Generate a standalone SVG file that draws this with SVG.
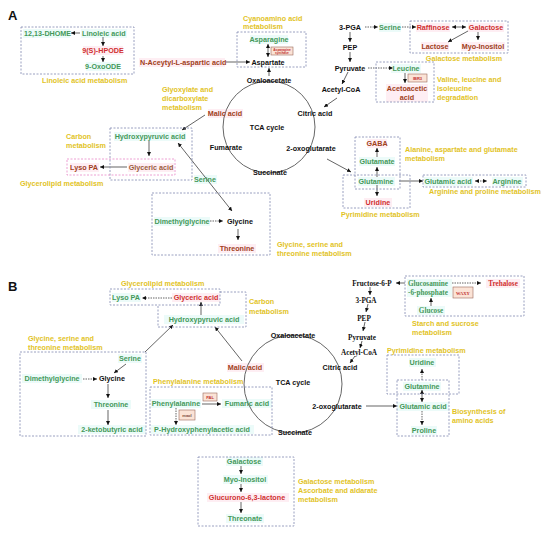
<svg xmlns="http://www.w3.org/2000/svg" width="550" height="536" viewBox="0 0 550 536">
<style>
text{font-family:"Liberation Sans",Arial,sans-serif;font-weight:bold;font-size:7.2px}
.s{font-family:"Liberation Serif","Times New Roman",serif}
.k{fill:#111}
.g{fill:#44995a}
.r{fill:#d03030}
.b{fill:#a0401a}
.y{fill:#e2c31f}
.m{text-anchor:middle}
.box{fill:none;stroke:#8088b0;stroke-width:0.8;stroke-dasharray:2 1.5}
.pbox{fill:none;stroke:#e888c8;stroke-width:0.8;stroke-dasharray:2 1.5}
.ln{stroke:#222;stroke-width:0.7;fill:none;marker-end:url(#ah)}
.dl{stroke:#222;stroke-width:0.7;fill:none;stroke-dasharray:1.5 1;marker-end:url(#ah)}
.bi{marker-start:url(#ah)}
.enz{fill:#fbe3d6;stroke:#9a6a5a;stroke-width:0.6}
.tiny{font-size:3.2px;fill:#c03030}
.hc{fill:#ecfbf9}
.hp{fill:#feeef3}
</style>
<defs>
<marker id="ah" viewBox="0 0 6 6" refX="6" refY="3" markerWidth="4" markerHeight="4" markerUnits="userSpaceOnUse" orient="auto-start-reverse">
<path d="M0,0 L6,3 L0,6 z" fill="#111"/>
</marker>
</defs>

<g id="highlights">
<rect class="hc" x="23" y="29" width="47" height="9"/>
<rect class="hc" x="81" y="29" width="46" height="9"/>
<rect class="hp" x="83" y="46" width="40" height="9"/>
<rect class="hc" x="86" y="62" width="34" height="9"/>
<rect class="hp" x="139" y="58" width="86" height="9"/>
<rect class="hc" x="250" y="35" width="38" height="9"/>
<rect class="hp" x="208" y="109" width="35" height="9"/>
<rect class="hc" x="379" y="23" width="22" height="9"/>
<rect class="hp" x="416" y="23" width="34" height="9"/>
<rect class="hp" x="468" y="23" width="36" height="9"/>
<rect class="hp" x="421" y="42" width="28" height="9"/>
<rect class="hp" x="461" y="42" width="44" height="9"/>
<rect class="hc" x="391" y="64" width="30" height="9"/>
<rect class="hp" x="386" y="84" width="42" height="18"/>
<rect class="hc" x="114" y="132" width="72" height="9"/>
<rect class="hp" x="70" y="163" width="29" height="9"/>
<rect class="hp" x="128" y="163" width="46" height="9"/>
<rect class="hc" x="194" y="175" width="23" height="9"/>
<rect class="hc" x="154" y="217" width="56" height="9"/>
<rect class="hp" x="218" y="244" width="38" height="9"/>
<rect class="hp" x="367" y="139" width="20" height="9"/>
<rect class="hc" x="359" y="157" width="36" height="9"/>
<rect class="hc" x="358" y="177" width="37" height="9"/>
<rect class="hp" x="364" y="198" width="28" height="9"/>
<rect class="hc" x="424" y="177" width="49" height="9"/>
<rect class="hc" x="492" y="177" width="31" height="9"/>
<rect class="hc" x="112" y="293" width="29" height="9"/>
<rect class="hp" x="172" y="293" width="48" height="9"/>
<rect class="hc" x="164" y="315" width="80" height="9"/>
<rect class="hc" x="118" y="354" width="24" height="9"/>
<rect class="hc" x="22" y="374" width="60" height="9"/>
<rect class="hc" x="91" y="400" width="40" height="9"/>
<rect class="hc" x="78" y="425" width="68" height="9"/>
<rect class="hc" x="151" y="399" width="50" height="9"/>
<rect class="hc" x="222" y="399" width="50" height="9"/>
<rect class="hc" x="151" y="425" width="103" height="9"/>
<rect class="hp" x="227" y="363" width="37" height="9"/>
<rect class="hc" x="407" y="279" width="45" height="18"/>
<rect class="hp" x="486" y="279" width="34" height="9"/>
<rect class="hc" x="417" y="306" width="28" height="9"/>
<rect class="hc" x="409" y="358" width="27" height="9"/>
<rect class="hc" x="403" y="382" width="38" height="9"/>
<rect class="hc" x="397" y="402" width="52" height="9"/>
<rect class="hc" x="411" y="426" width="26" height="9"/>
<rect class="hc" x="226" y="457" width="37" height="9"/>
<rect class="hc" x="223" y="475" width="45" height="9"/>
<rect class="hp" x="207" y="493" width="82" height="9"/>
<rect class="hc" x="226" y="514" width="38" height="9"/>
</g>

<text x="8" y="20" class="k" style="font-size:13px">A</text>
<text x="8" y="291" class="k" style="font-size:13px">B</text>

<g id="connectors">
<!-- Panel A -->
<line class="ln" x1="80" y1="33" x2="71" y2="33"/>
<line class="ln" x1="103" y1="37" x2="103" y2="46"/>
<line class="ln" x1="103" y1="56" x2="103" y2="62"/>
<line class="ln" x1="226" y1="62" x2="250" y2="62"/>
<line class="ln bi" x1="268" y1="44" x2="268" y2="57"/>
<line class="ln" x1="269" y1="76" x2="269" y2="68"/>
<line class="ln" x1="350" y1="32" x2="350" y2="42"/>
<line class="ln" x1="350" y1="52" x2="350" y2="62"/>
<line class="ln" x1="348" y1="72" x2="342" y2="84"/>
<line class="ln" x1="337" y1="98" x2="324" y2="107"/>
<line class="dl" x1="365" y1="27" x2="378" y2="27"/>
<line class="dl" x1="402" y1="27" x2="416" y2="27"/>
<line class="ln bi" x1="452" y1="27" x2="466" y2="27"/>
<line class="ln" x1="468" y1="31" x2="448" y2="42"/>
<line class="ln" x1="478" y1="32" x2="478" y2="40"/>
<line class="dl" x1="368" y1="68" x2="393" y2="68"/>
<line class="ln" x1="405" y1="73" x2="405" y2="83"/>
<line class="ln" x1="205" y1="115" x2="182" y2="130"/>
<line class="ln" x1="149" y1="141" x2="149" y2="156"/>
<line class="ln" x1="127" y1="167" x2="100" y2="167"/>
<line class="ln bi" x1="178" y1="143" x2="232" y2="211"/>
<line class="dl" x1="210" y1="221" x2="223" y2="221"/>
<line class="ln" x1="238" y1="229" x2="238" y2="240"/>
<line class="ln" x1="377" y1="157" x2="377" y2="148"/>
<line class="ln" x1="377" y1="177" x2="377" y2="167"/>
<line class="ln" x1="377" y1="185" x2="377" y2="196"/>
<line class="ln" x1="327" y1="159" x2="351" y2="172"/>
<line class="ln" x1="399" y1="181" x2="423" y2="181"/>
<line class="dl bi" x1="475" y1="181" x2="487" y2="181"/>
<!-- Panel B -->
<line class="dl" x1="172" y1="298" x2="142" y2="298"/>
<line class="ln" x1="201" y1="315" x2="201" y2="302"/>
<line class="ln" x1="242" y1="361" x2="215" y2="327"/>
<line class="ln" x1="145" y1="352" x2="173" y2="325"/>
<line class="ln" x1="126" y1="364" x2="114" y2="373"/>
<line class="dl" x1="83" y1="379" x2="97" y2="379"/>
<line class="ln" x1="108" y1="384" x2="108" y2="398"/>
<line class="ln" x1="108" y1="410" x2="108" y2="425"/>
<line class="ln" x1="202" y1="404" x2="221" y2="404"/>
<line class="dl" x1="176" y1="408" x2="176" y2="425"/>
<line class="ln" x1="366" y1="406" x2="397" y2="406"/>
<line class="ln" x1="370" y1="287" x2="370" y2="295"/>
<line class="ln" x1="368" y1="304" x2="366" y2="312"/>
<line class="ln" x1="365" y1="322" x2="363" y2="331"/>
<line class="ln" x1="362" y1="341" x2="360" y2="348"/>
<line class="ln" x1="355" y1="356" x2="350" y2="363"/>
<line class="ln" x1="405" y1="283" x2="396" y2="283"/>
<line class="dl" x1="452" y1="283" x2="481" y2="283"/>
<line class="ln" x1="431" y1="306" x2="431" y2="298"/>
<line class="dl" x1="422" y1="380" x2="422" y2="369"/>
<line class="ln bi" x1="422" y1="390" x2="422" y2="402"/>
<line class="dl" x1="422" y1="411" x2="422" y2="425"/>
<line class="ln" x1="241" y1="466" x2="241" y2="474"/>
<line class="ln" x1="241" y1="484" x2="241" y2="492"/>
<line class="ln" x1="241" y1="502" x2="241" y2="513"/>
</g>

<g id="tca-a">
<circle cx="269" cy="127" r="46" fill="none" stroke="#555" stroke-width="0.9"/>
<text x="267" y="130" class="k m">TCA  cycle</text>
<text x="269" y="83" class="k m">Oxaloacetate</text>
<text x="225" y="116" class="b m">Malic acid</text>
<text x="315" y="116" class="k m">Citric acid</text>
<text x="226" y="150" class="k m">Fumarate</text>
<text x="311" y="151" class="k m">2-oxoglutarate</text>
<text x="270" y="175" class="k m">Succinate</text>
</g>

<g id="linoleic-a">
<rect class="box" x="21" y="27" width="113" height="47"/>
<text x="24" y="36" class="g">12,13-DHOME</text>
<text x="82" y="36" class="g">Linoleic acid</text>
<text x="103" y="53" class="r m">9(S)-HPODE</text>
<text x="103" y="69" class="g m">9-OxoODE</text>
<text x="42" y="83" class="y">Linoleic acid metabolism</text>
</g>

<g id="naa-a">
<text x="140" y="65" class="b">N-Aceytyl-L-aspartic acid</text>
</g>

<g id="cyano-a">
<rect class="box" x="237" y="32" width="69" height="35"/>
<text x="243" y="21" class="y">Cyanoamino acid</text>
<text x="243" y="29" class="y">metabolism</text>
<text x="269" y="42" class="g m">Asparagine</text>
<rect class="enz" x="271" y="47" width="22" height="8"/>
<text x="282" y="50.5" class="tiny m">Asparagine</text>
<text x="282" y="54" class="tiny m">synthase</text>
<text x="268" y="65" class="k m">Aspartate</text>
</g>

<g id="glycolysis-a">
<text x="350" y="30" class="k m">3-PGA</text>
<text x="350" y="50" class="k m">PEP</text>
<text x="350" y="71" class="k m">Pyruvate</text>
<text x="341" y="92" class="k m">Acetyl-CoA</text>
<text x="390" y="30" class="g m">Serine</text>
</g>

<g id="galactose-a">
<rect class="box" x="410" y="21" width="98" height="32"/>
<text x="433" y="30" class="r m">Raffinose</text>
<text x="486" y="30" class="r m">Galactose</text>
<text x="435" y="49" class="b m">Lactose</text>
<text x="483" y="49" class="b m">Myo-Inositol</text>
<text x="464" y="61" class="y m">Galactose metabolism</text>
</g>

<g id="leucine-a">
<rect class="box" x="376" y="62" width="58" height="40"/>
<text x="406" y="71" class="g m">Leucine</text>
<rect class="enz" x="408" y="74" width="19" height="8"/>
<text x="417.5" y="79.5" class="m" style="font-size:4px;fill:#c03030">IBR3</text>
<text x="407" y="91" class="b m">Acetoacetic</text>
<text x="407" y="100" class="b m">acid</text>
<text x="437" y="82" class="y">Valine, leucine and</text>
<text x="437" y="91" class="y">isoleucine</text>
<text x="437" y="100" class="y">degradation</text>
</g>

<g id="glyoxylate-a">
<text x="162" y="92" class="y">Glyoxylate and</text>
<text x="162" y="101" class="y">dicarboxylate</text>
<text x="162" y="110" class="y">metabolism</text>
</g>

<g id="carbon-a">
<rect class="box" x="110" y="128" width="82" height="52"/>
<rect class="pbox" x="67" y="159" width="108" height="16"/>
<text x="66" y="139" class="y">Carbon</text>
<text x="66" y="148" class="y">metabolism</text>
<text x="150" y="139" class="g m">Hydroxypyruvic acid</text>
<text x="84" y="170" class="b m">Lyso PA</text>
<text x="151" y="170" class="m" style="fill:#9a5a3a">Glyceric acid</text>
<text x="20" y="186" class="y">Glycerolipid  metabolism</text>
<text x="205" y="182" class="g m">Serine</text>
</g>

<g id="glycine-a">
<rect class="box" x="152" y="193" width="118" height="62"/>
<text x="182" y="224" class="g m">Dimethylglycine</text>
<text x="240" y="224" class="k m">Glycine</text>
<text x="237" y="251" class="b m">Threonine</text>
<text x="277" y="247" class="y">Glycine, serine and</text>
<text x="277" y="256" class="y">threonine  metabolism</text>
</g>

<g id="glutamate-a">
<rect class="box" x="355" y="137" width="45" height="52"/>
<rect class="box" x="343" y="175" width="67" height="33"/>
<text x="377" y="146" class="b m">GABA</text>
<text x="377" y="164" class="g m">Glutamate</text>
<text x="376" y="184" class="g m">Glutamine</text>
<text x="378" y="205" class="r m">Uridine</text>
<text x="405" y="152" class="y">Alanine, aspartate and glutamate</text>
<text x="405" y="161" class="y">metabolism</text>
<text x="341" y="217" class="y">Pyrimidine metabolism</text>
</g>

<g id="arginine-a">
<rect class="box" x="423" y="175" width="103" height="12"/>
<text x="448" y="184" class="g m">Glutamic acid</text>
<text x="507" y="184" class="g m">Arginine</text>
<text x="429" y="194" class="y">Arginine and proline metabolism</text>
</g>

<!-- Panel B -->
<g id="tca-b">
<circle cx="293" cy="384" r="49" fill="none" stroke="#555" stroke-width="0.9"/>
<text x="293" y="385" class="k m">TCA  cycle</text>
<text x="293" y="338" class="k m">Oxaloacetate</text>
<text x="245" y="370" class="b m">Malic acid</text>
<text x="340" y="370" class="k m">Citric acid</text>
<text x="337" y="409" class="k m">2-oxoglutarate</text>
<text x="295" y="435" class="k m">Succinate</text>
</g>

<g id="carbon-b">
<rect class="box" x="110" y="289" width="110" height="16"/>
<path class="box" d="M220,292 H246 V327 H158 V305"/>
<text x="121" y="286" class="y">Glycerolipid  metabolism</text>
<text x="126" y="300" class="g m">Lyso PA</text>
<text x="196" y="300" class="r m">Glyceric acid</text>
<text x="204" y="322" class="g m">Hydroxypyruvic acid</text>
<text x="249" y="304" class="y">Carbon</text>
<text x="249" y="314" class="y">metabolism</text>
</g>

<g id="glycine-b">
<rect class="box" x="20" y="352" width="126" height="84"/>
<text x="28" y="341" class="y">Glycine, serine and</text>
<text x="28" y="350" class="y">threonine  metabolism</text>
<text x="130" y="361" class="g m">Serine</text>
<text x="52" y="381" class="g m">Dimethylglycine</text>
<text x="112" y="381" class="k m">Glycine</text>
<text x="111" y="407" class="g m">Threonine</text>
<text x="112" y="432" class="g m">2-ketobutyric acid</text>
</g>

<g id="phenylalanine-b">
<rect class="box" x="150" y="387" width="122" height="48"/>
<text x="153" y="384" class="y">Phenylalanine  metabolism</text>
<text x="176" y="406" class="g m">Phenylalanine</text>
<rect class="enz" x="203" y="393" width="14" height="8"/>
<text x="210" y="399" class="m" style="font-size:4px;fill:#c03030">PAL</text>
<text x="247" y="406" class="g m">Fumaric acid</text>
<rect class="enz" x="179" y="410" width="16" height="10"/>
<text x="187" y="416.5" class="m" style="font-size:4px;fill:#7a4a3a">maoI</text>
<text x="202" y="432" class="g m">P-Hydroxyphenylacetic acid</text>
</g>

<g id="glycolysis-b">
<text x="372" y="286" class="s k m">Fructose-6-P</text>
<text x="366" y="303" class="s k m">3-PGA</text>
<text x="364" y="321" class="s k m">PEP</text>
<text x="362" y="340" class="s k m">Pyruvate</text>
<text x="359" y="355" class="s k m">Acetyl-CoA</text>
</g>

<g id="starch-b">
<rect class="box" x="405" y="276" width="119" height="40"/>
<text x="408" y="286" class="s g">Glucosamine</text>
<text x="408" y="295" class="s g">-6-phosphate</text>
<rect class="enz" x="453" y="287" width="20" height="11"/>
<text x="463" y="294.5" class="s m" style="font-size:4.5px;fill:#c03030">WAXY</text>
<text x="503" y="286" class="s r m">Trehalose</text>
<text x="431" y="313" class="s g m">Glucose</text>
<text x="412" y="326" class="y">Starch and  sucrose</text>
<text x="412" y="335" class="y">metabolism</text>
</g>

<g id="amino-b">
<rect class="box" x="387" y="355" width="72" height="39"/>
<rect class="box" x="397" y="380" width="52" height="56"/>
<text x="387" y="353" class="y">Pyrimidine metabolism</text>
<text x="422" y="365" class="g m">Uridine</text>
<text x="422" y="389" class="g m">Glutamine</text>
<text x="423" y="409" class="g m">Glutamic acid</text>
<text x="424" y="433" class="g m">Proline</text>
<text x="452" y="414" class="y">Biosynthesis of</text>
<text x="452" y="423" class="y">amino acids</text>
</g>

<g id="galactose-b">
<rect class="box" x="198" y="457" width="96" height="69"/>
<text x="244" y="464" class="g m">Galactose</text>
<text x="245" y="482" class="g m">Myo-Inositol</text>
<text x="247" y="500" class="r m">Glucurono-6,3-lactone</text>
<text x="245" y="521" class="g m">Threonate</text>
<text x="298" y="484" class="y">Galactose  metabolism</text>
<text x="298" y="493" class="y">Ascorbate and aldarate</text>
<text x="298" y="502" class="y">metabolism</text>
</g>
</svg>
